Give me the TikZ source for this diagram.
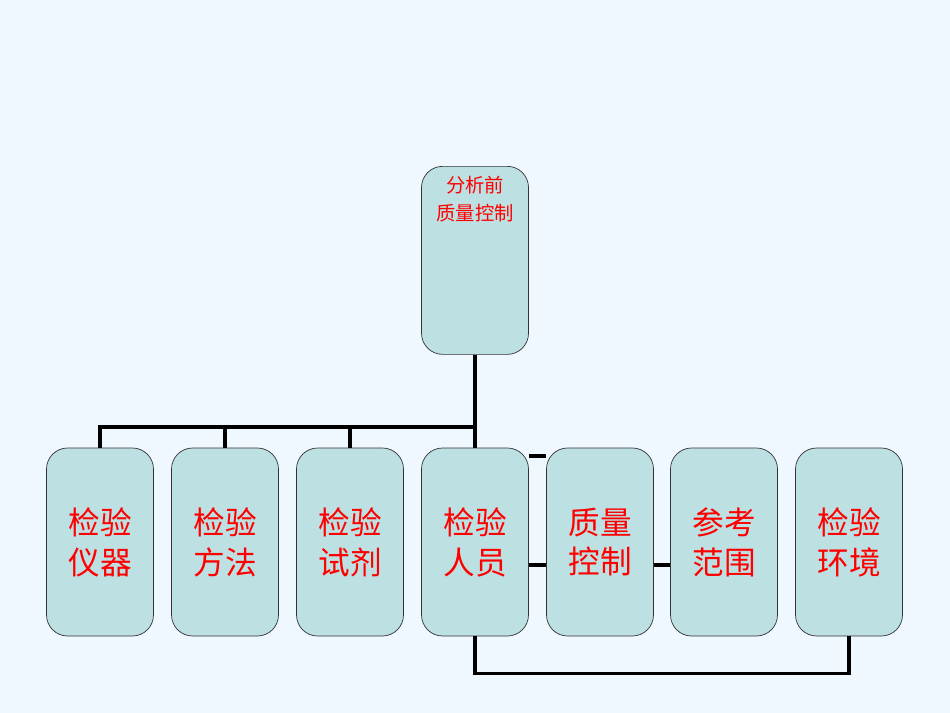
\documentclass[tikz,border=0pt]{standalone}
\usepackage{fontspec}
\newfontfamily\cjk{Noto Sans CJK SC}
\definecolor{bgblue}{HTML}{F0F8FF}
\definecolor{boxfill}{HTML}{BDE0E2}
\tikzset{
  item/.style={draw=black!80, fill=boxfill, rounded corners=12pt, minimum width=107*0.02cm,
    minimum height=188*0.02cm, inner sep=0pt, text=red, font=\cjk\fontsize{18}{22.7}\selectfont, align=center},
  link/.style={line width=1.8pt}
}
\begin{document}
\begin{tikzpicture}[x=0.02cm,y=-0.02cm]
\fill[bgblue] (0,0) rectangle (950,713);
\useasboundingbox (0,0) rectangle (950,713);

\node[item, anchor=north] (top) at (475,166) {};
\node[text=red, font=\cjk\fontsize{11}{16}\selectfont, align=center, anchor=north] (toptext) at (475,170) {分析前\\质量控制};

\node[item] (yq) at (100,542) {检验\\仪器};
\node[item] (ff) at (225,542) {检验\\方法};
\node[item] (sj) at (350,542) {检验\\试剂};
\node[item] (ry) at (475,542) {检验\\人员};
\node[item] (zk) at (600,542) {质量\\控制};
\node[item] (ck) at (724,542) {参考\\范围};
\node[item] (hj) at (849,542) {检验\\环境};

\coordinate (bus) at (475,427);
\draw[link] (top.south) -- (ry.north);
\draw[link] (yq.north) |- (bus);
\foreach \b in {ff,sj} {
    \draw[link] (\b.north) -- ++(0,-21);
}
\draw[link] (ry.east |- 0,456) -- (zk.west |- 0,456);
\draw[link] (ry.east |- 0,565) -- (zk.west |- 0,565);
\draw[link] (zk.east |- 0,565) -- (ck.west |- 0,565);
\draw[link] (ry.south) -- ++(0,37) -| (hj.south);
\end{tikzpicture}
\end{document}
